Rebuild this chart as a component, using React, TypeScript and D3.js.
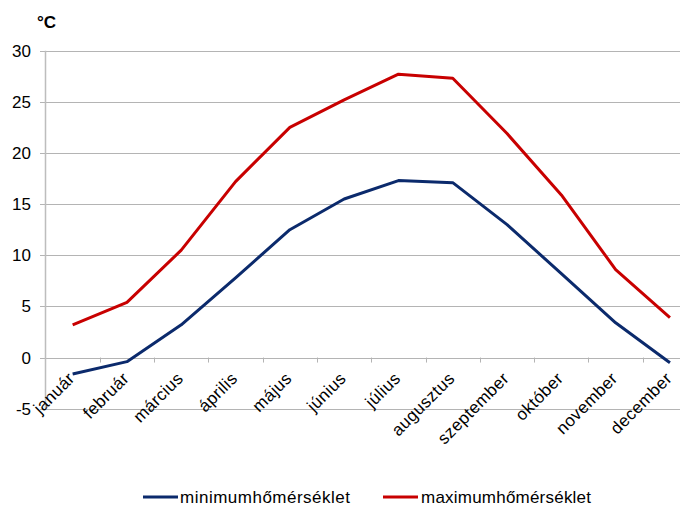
import React from "react";
import * as d3 from "d3";

const months = [
  "január", "február", "március", "április", "május", "június",
  "július", "augusztus", "szeptember", "október", "november", "december",
];
const minTemp = [-1.6, -0.4, 3.2, 7.8, 12.5, 15.5, 17.3, 17.1, 13.0, 8.2, 3.4, -0.5];
const maxTemp = [3.2, 5.4, 10.5, 17.2, 22.5, 25.2, 27.7, 27.3, 21.9, 15.9, 8.6, 3.9];
const yTicks = [-5, 0, 5, 10, 15, 20, 25, 30];

const seriesList = [
  { name: "minimumhőmérséklet", values: minTemp, color: "#0b2a6c" },
  { name: "maximumhőmérséklet", values: maxTemp, color: "#c80000" },
];

const W = 680;
const H = 507;
const FONT = "'Liberation Sans', Arial, sans-serif";

export default function App() {
  const left = 45.5;
  const bandW = 54.3;
  const x = d3
    .scaleBand<string>()
    .domain(months)
    .range([left, left + bandW * months.length]);
  const y = d3.scaleLinear().domain([-5, 30]).range([408.7, 50.7]);
  const cx = (m: string) => (x(m) as number) + x.bandwidth() / 2;
  const line = d3
    .line<number>()
    .x((_, i) => cx(months[i]))
    .y((v) => y(v));

  const legend = [
    { lx: 143, tx: 180 },
    { lx: 383, tx: 421 },
  ];

  return (
    <div style={{ position: "absolute", left: 0, top: 0 }}>
      <svg width={W} height={H} style={{ display: "block", background: "#fff" }}>
        {/* horizontal gridlines */}
        {yTicks.map((t) => (
          <line
            key={t}
            x1={40}
            x2={W}
            y1={Math.round(y(t)) + 0.5}
            y2={Math.round(y(t)) + 0.5}
            stroke="#b4b4b4"
            strokeWidth={1}
          />
        ))}
        {/* y axis */}
        <line x1={45.5} x2={45.5} y1={y(30)} y2={y(-5)} stroke="#bdbdbd" strokeWidth={1.5} />
        {/* category ticks on the zero line */}
        {months.map((m) => (
          <line
            key={m}
            x1={Math.round((x(m) as number) + bandW) + 0.5}
            x2={Math.round((x(m) as number) + bandW) + 0.5}
            y1={y(0)}
            y2={y(0) + 5}
            stroke="#b4b4b4"
          />
        ))}
        {/* y tick labels */}
        {yTicks.map((t) => (
          <text
            key={t}
            x={31}
            y={y(t) + 6}
            textAnchor="end"
            fontFamily={FONT}
            fontSize={17}
            fill="#000"
          >
            {t}
          </text>
        ))}
        <text x={37} y={28} fontFamily={FONT} fontSize={17} fontWeight="bold" fill="#000">
          °C
        </text>
        {/* month labels */}
        {months.map((m) => {
          const px = cx(m) + 3;
          const py = y(0) + 22;
          return (
            <text
              key={m}
              transform={`translate(${px},${py}) rotate(-45)`}
              textAnchor="end"
              fontFamily={FONT}
              fontSize={17}
              letterSpacing={0.4}
              fill="#000"
            >
              {m}
            </text>
          );
        })}
        {/* series lines */}
        {seriesList.map((s) => (
          <path
            key={s.name}
            d={line(s.values) as string}
            fill="none"
            stroke={s.color}
            strokeWidth={3}
            strokeLinejoin="round"
          />
        ))}
        {/* legend */}
        {seriesList.map((s, i) => (
          <g key={s.name}>
            <line
              x1={legend[i].lx}
              x2={legend[i].lx + 35}
              y1={497}
              y2={497}
              stroke={s.color}
              strokeWidth={3}
            />
            <text
              x={legend[i].tx}
              y={503}
              fontFamily={FONT}
              fontSize={17}
              textLength={170}
              lengthAdjust="spacing"
              fill="#000"
            >
              {s.name}
            </text>
          </g>
        ))}
      </svg>
    </div>
  );
}
